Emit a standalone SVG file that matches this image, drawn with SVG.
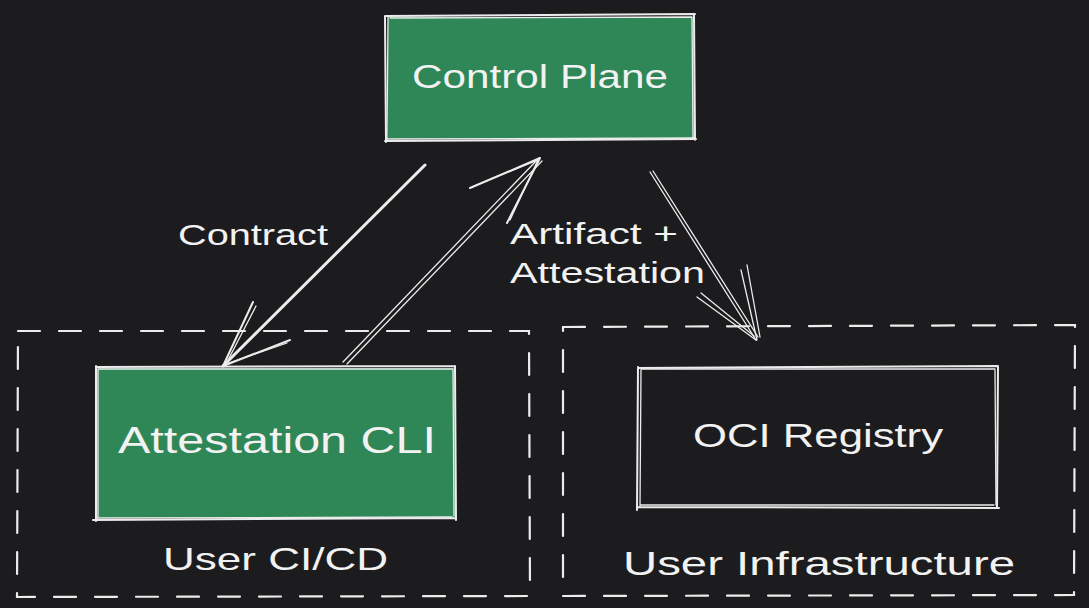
<svg xmlns="http://www.w3.org/2000/svg" width="1089" height="608" viewBox="0 0 1089 608">
<defs>
<style>
.bg{fill:#1c1c1e}
.sk{fill:none;stroke:#ececec;stroke-width:2;stroke-linecap:round;stroke-linejoin:round}
.sk2{fill:none;stroke:#ececec;stroke-width:1.3;stroke-linecap:round;stroke-linejoin:round}
.fillg{fill:#2f8757}
.dash{fill:none;stroke:#ececec;stroke-width:2.2;stroke-dasharray:22 19;stroke-linecap:round}
.t{font-family:"Liberation Sans","DejaVu Sans",sans-serif;fill:#f2f2f2;lengthAdjust:spacingAndGlyphs}
</style>
</defs>
<rect class="bg" x="0" y="0" width="1089" height="608"/>

<g id="user-cicd">
<path class="dash" d="M18 331 L529 331 L530 596 L17 597 Z"/>
<text class="t" x="163" y="570" font-size="32" textLength="225" lengthAdjust="spacingAndGlyphs">User CI/CD</text>
</g>

<g id="user-infrastructure">
<path class="dash" d="M563 327 L1075 325 L1074 595 L563 596 Z"/>
<text class="t" x="623" y="575" font-size="34" textLength="392" lengthAdjust="spacingAndGlyphs">User Infrastructure</text>
</g>

<g id="control-plane">
<rect class="fillg" x="388" y="17" width="306" height="122"/>
<path class="sk" d="M386 16 L695 14 M694 14 L695 140 M696 139 L385 141 M386 142 L385 16"/>
<path class="sk2" d="M390 18 L692 17 M692 18 L693 137 M694 138 L388 139 M387 140 L388 17"/>
<text class="t" x="412" y="88" font-size="34" textLength="256" lengthAdjust="spacingAndGlyphs">Control Plane</text>
</g>

<g id="attestation-cli">
<rect class="fillg" x="97" y="368" width="358" height="150"/>
<path class="sk" d="M96 367 L455 366 M455 366 L456 520 M456 518 L93 520 M96 521 L96 366"/>
<path class="sk2" d="M99 369 L453 369 M453 370 L454 516 M452 517 L97 518 M98 517 L98 369"/>
<text class="t" x="118" y="453" font-size="36" textLength="318" lengthAdjust="spacingAndGlyphs">Attestation CLI</text>
</g>

<g id="oci-registry">
<path class="sk" d="M638 368 L998 366 M998 367 L997 508 M999 508 L637 507 M637 510 L638 367"/>
<path class="sk2" d="M641 369 L995 369 M995 370 L996 505 M994 505 L640 505 M640 506 L641 370"/>
<text class="t" x="693" y="447" font-size="34" textLength="250" lengthAdjust="spacingAndGlyphs">OCI Registry</text>
</g>

<g id="connectors">
<g id="contract-arrow">
<path class="sk" style="stroke-width:3" d="M425 165 L223 366"/>
<path class="sk" d="M253 302 L223 366 L290 340"/>
<path class="sk2" d="M256 306 L226 364 L287 343"/>
<text class="t" x="178" y="245" font-size="30" textLength="150" lengthAdjust="spacingAndGlyphs">Contract</text>
</g>
<g id="artifact-arrow">
<path class="sk2" d="M343 362 L539 158"/>
<path class="sk2" d="M347 364 L542 161"/>
<path class="sk" d="M470 188 L540 158 L507 223"/>
<path class="sk2" d="M474 186 L538 160 L510 220"/>
<text class="t" x="510" y="244" font-size="30" textLength="168" lengthAdjust="spacingAndGlyphs">Artifact +</text>
<text class="t" x="510" y="283" font-size="30" textLength="195" lengthAdjust="spacingAndGlyphs">Attestation</text>
</g>
<g id="oci-arrow">
<path class="sk2" d="M650 172 L756 340"/>
<path class="sk2" d="M653 171 L758 337"/>
<path class="sk2" d="M697 297 L756 340 M701 293 L754 336 M747 265 L760 337 M741 270 L757 340"/>
</g>
</g>
</svg>
